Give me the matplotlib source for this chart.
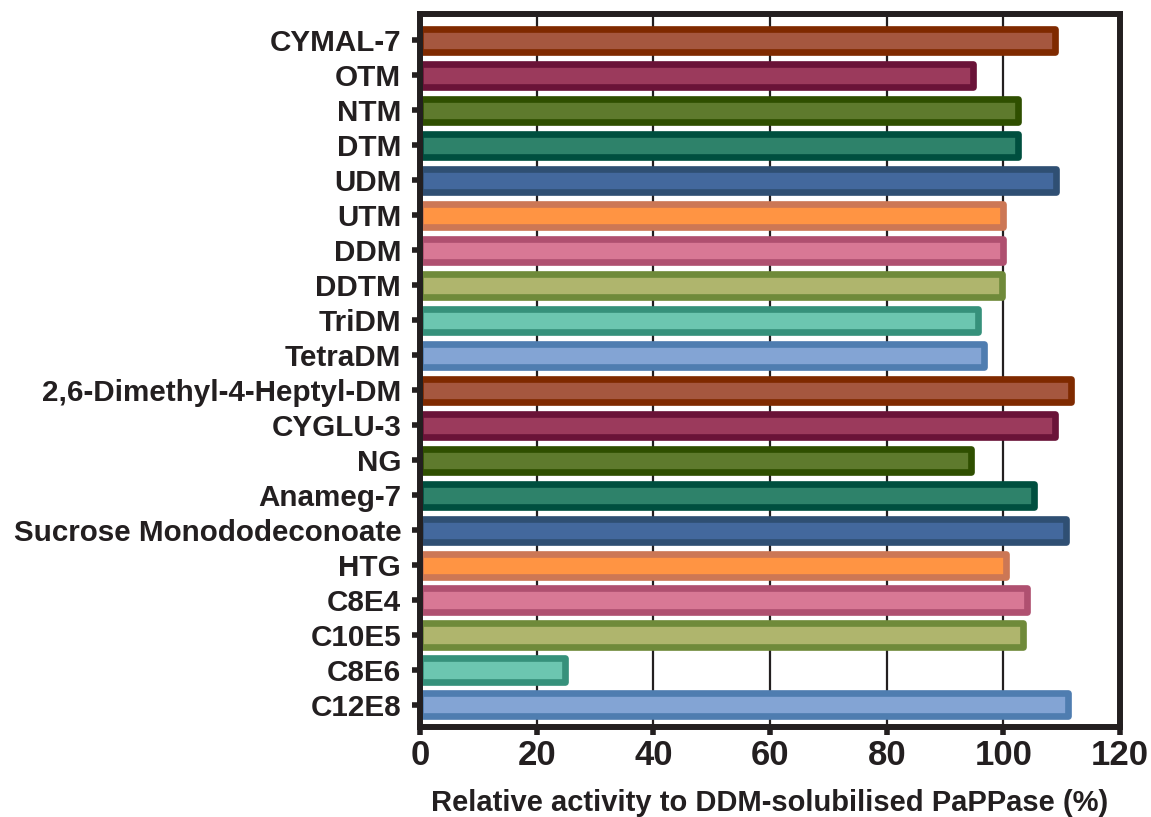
import numpy as np
import matplotlib
matplotlib.use("Agg")
import matplotlib.pyplot as plt

plt.rcParams['font.family'] = ['Liberation Sans', 'DejaVu Sans']
plt.rcParams['font.weight'] = 'bold'

# detergent names, top to bottom
detergents = ['CYMAL-7', 'OTM', 'NTM', 'DTM', 'UDM', 'UTM', 'DDM', 'DDTM',
              'TriDM', 'TetraDM', '2,6-Dimethyl-4-Heptyl-DM', 'CYGLU-3', 'NG',
              'Anameg-7', 'Sucrose Monododeconoate', 'HTG', 'C8E4', 'C10E5',
              'C8E6', 'C12E8']
activity = [108.9, 94.8, 102.5, 102.5, 109.1, 100.0, 99.9, 99.8,
            95.7, 96.7, 111.6, 108.9, 94.5, 105.2, 110.7, 100.5, 104.0, 103.3,
            24.9, 111.1]

fill_colors = ['#a5573f', '#9b3a5c', '#5e7a2d', '#2e826a', '#43689d',
               '#ff9443', '#d87895', '#afb56d', '#6cc6b0', '#83a4d4']
edge_colors = ['#7f2a00', '#6a1338', '#2f4f00', '#004f3f', '#2f4f73',
               '#cc7755', '#af5070', '#6f8a3a', '#36917b', '#4f7db0']

ink = '#231f20'

fig = plt.figure(figsize=(11.51, 8.17), dpi=100)
ax = fig.add_axes([0.3649, 0.1102, 0.6082, 0.8727])

y = np.arange(len(detergents))
fc = [fill_colors[i % 10] for i in range(len(detergents))]
ec = [edge_colors[i % 10] for i in range(len(detergents))]
bars = ax.barh(y, activity, height=0.66, color=fc, edgecolor=ec,
               linewidth=4.8, zorder=3)
for b in bars:
    b.set_joinstyle('round')

ax.set_xlim(0, 120)
ax.set_ylim(len(detergents) - 1 + 0.63, -0.757)
ax.set_xticks(np.arange(0, 121, 20))
ax.set_yticks(y)
ax.set_yticklabels(detergents, fontsize=21.3, fontweight='bold', color=ink)
ax.tick_params(axis='x', labelsize=25, colors=ink, length=6, width=4, pad=3)
ax.tick_params(axis='y', colors=ink, length=6, width=4, pad=7.5)
for lab in ax.get_xticklabels():
    lab.set_fontweight('bold')

ax.grid(axis='x', color=ink, linewidth=1.6, zorder=0)
ax.set_axisbelow(True)
for s in ax.spines.values():
    s.set_linewidth(4.3)
    s.set_color(ink)
    s.set_zorder(5)

ax.set_xlabel('Relative activity to DDM-solubilised PaPPase (%)', fontsize=21,
              fontweight='bold', color=ink, labelpad=12)

fig.savefig('out.png', dpi=100)
